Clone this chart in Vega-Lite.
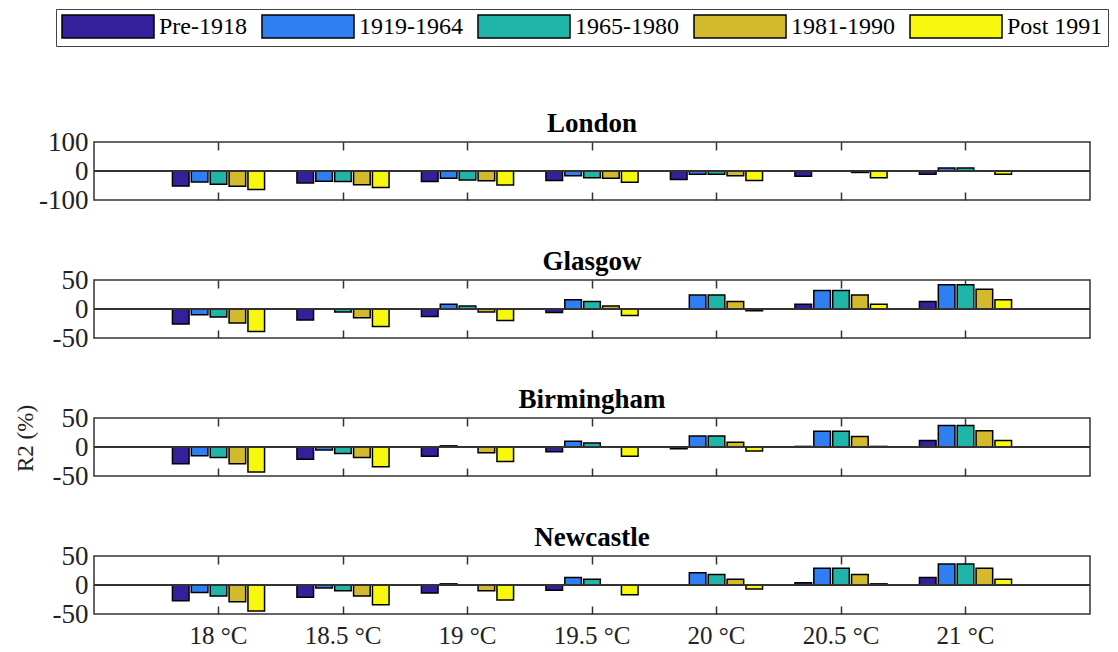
{
  "$schema": "https://vega.github.io/schema/vega-lite/v6.json",
  "padding": {"left": 13, "top": 8, "right": 0, "bottom": 0},
  "background": "white",
  "config": {
    "font": "Liberation Serif",
    "view": {"stroke": "#333", "strokeWidth": 1.5},
    "axis": {"labelFont": "Liberation Serif", "labelFontSize": 27, "labelColor": "#222", "labelOverlap": false, "labelFlush": false, "grid": false, "domain": false, "tickColor": "#333", "tickWidth": 1.5, "titleFont": "Liberation Serif", "titleFontSize": 23, "titleFontWeight": "normal", "titleColor": "#222"},
    "title": {"font": "Liberation Serif", "fontSize": 27, "fontWeight": "bold", "color": "black", "offset": -10, "anchor": "middle"},
    "legend": {"orient": "none", "legendX": -38, "legendY": -133, "direction": "horizontal", "columns": 5, "labelFont": "Liberation Serif", "labelFontSize": 24, "labelColor": "black", "labelOffset": 73, "columnPadding": 12, "strokeColor": "#444", "padding": 5, "fillColor": "white"}
  },
  "datasets": {
    "d": [
      {"city": "London", "temp": "18 °C", "period": "Pre-1918", "value": -52},
      {"city": "London", "temp": "18 °C", "period": "1919-1964", "value": -38},
      {"city": "London", "temp": "18 °C", "period": "1965-1980", "value": -46},
      {"city": "London", "temp": "18 °C", "period": "1981-1990", "value": -53},
      {"city": "London", "temp": "18 °C", "period": "Post 1991", "value": -64},
      {"city": "London", "temp": "18.5 °C", "period": "Pre-1918", "value": -41},
      {"city": "London", "temp": "18.5 °C", "period": "1919-1964", "value": -35},
      {"city": "London", "temp": "18.5 °C", "period": "1965-1980", "value": -36},
      {"city": "London", "temp": "18.5 °C", "period": "1981-1990", "value": -47},
      {"city": "London", "temp": "18.5 °C", "period": "Post 1991", "value": -57},
      {"city": "London", "temp": "19 °C", "period": "Pre-1918", "value": -36},
      {"city": "London", "temp": "19 °C", "period": "1919-1964", "value": -25},
      {"city": "London", "temp": "19 °C", "period": "1965-1980", "value": -31},
      {"city": "London", "temp": "19 °C", "period": "1981-1990", "value": -34},
      {"city": "London", "temp": "19 °C", "period": "Post 1991", "value": -48},
      {"city": "London", "temp": "19.5 °C", "period": "Pre-1918", "value": -33},
      {"city": "London", "temp": "19.5 °C", "period": "1919-1964", "value": -16},
      {"city": "London", "temp": "19.5 °C", "period": "1965-1980", "value": -23},
      {"city": "London", "temp": "19.5 °C", "period": "1981-1990", "value": -25},
      {"city": "London", "temp": "19.5 °C", "period": "Post 1991", "value": -39},
      {"city": "London", "temp": "20 °C", "period": "Pre-1918", "value": -29},
      {"city": "London", "temp": "20 °C", "period": "1919-1964", "value": -11},
      {"city": "London", "temp": "20 °C", "period": "1965-1980", "value": -11},
      {"city": "London", "temp": "20 °C", "period": "1981-1990", "value": -16},
      {"city": "London", "temp": "20 °C", "period": "Post 1991", "value": -33},
      {"city": "London", "temp": "20.5 °C", "period": "Pre-1918", "value": -18},
      {"city": "London", "temp": "20.5 °C", "period": "1919-1964", "value": 0},
      {"city": "London", "temp": "20.5 °C", "period": "1965-1980", "value": 0},
      {"city": "London", "temp": "20.5 °C", "period": "1981-1990", "value": -5},
      {"city": "London", "temp": "20.5 °C", "period": "Post 1991", "value": -23},
      {"city": "London", "temp": "21 °C", "period": "Pre-1918", "value": -11},
      {"city": "London", "temp": "21 °C", "period": "1919-1964", "value": 10},
      {"city": "London", "temp": "21 °C", "period": "1965-1980", "value": 10},
      {"city": "London", "temp": "21 °C", "period": "1981-1990", "value": 0},
      {"city": "London", "temp": "21 °C", "period": "Post 1991", "value": -11},

      {"city": "Glasgow", "temp": "18 °C", "period": "Pre-1918", "value": -26},
      {"city": "Glasgow", "temp": "18 °C", "period": "1919-1964", "value": -10},
      {"city": "Glasgow", "temp": "18 °C", "period": "1965-1980", "value": -14},
      {"city": "Glasgow", "temp": "18 °C", "period": "1981-1990", "value": -24},
      {"city": "Glasgow", "temp": "18 °C", "period": "Post 1991", "value": -39},
      {"city": "Glasgow", "temp": "18.5 °C", "period": "Pre-1918", "value": -19},
      {"city": "Glasgow", "temp": "18.5 °C", "period": "1919-1964", "value": 0},
      {"city": "Glasgow", "temp": "18.5 °C", "period": "1965-1980", "value": -5},
      {"city": "Glasgow", "temp": "18.5 °C", "period": "1981-1990", "value": -15},
      {"city": "Glasgow", "temp": "18.5 °C", "period": "Post 1991", "value": -30},
      {"city": "Glasgow", "temp": "19 °C", "period": "Pre-1918", "value": -13},
      {"city": "Glasgow", "temp": "19 °C", "period": "1919-1964", "value": 8},
      {"city": "Glasgow", "temp": "19 °C", "period": "1965-1980", "value": 5},
      {"city": "Glasgow", "temp": "19 °C", "period": "1981-1990", "value": -5},
      {"city": "Glasgow", "temp": "19 °C", "period": "Post 1991", "value": -20},
      {"city": "Glasgow", "temp": "19.5 °C", "period": "Pre-1918", "value": -6},
      {"city": "Glasgow", "temp": "19.5 °C", "period": "1919-1964", "value": 16},
      {"city": "Glasgow", "temp": "19.5 °C", "period": "1965-1980", "value": 13},
      {"city": "Glasgow", "temp": "19.5 °C", "period": "1981-1990", "value": 5},
      {"city": "Glasgow", "temp": "19.5 °C", "period": "Post 1991", "value": -11},
      {"city": "Glasgow", "temp": "20 °C", "period": "Pre-1918", "value": 0},
      {"city": "Glasgow", "temp": "20 °C", "period": "1919-1964", "value": 24},
      {"city": "Glasgow", "temp": "20 °C", "period": "1965-1980", "value": 24},
      {"city": "Glasgow", "temp": "20 °C", "period": "1981-1990", "value": 13},
      {"city": "Glasgow", "temp": "20 °C", "period": "Post 1991", "value": -3},
      {"city": "Glasgow", "temp": "20.5 °C", "period": "Pre-1918", "value": 8},
      {"city": "Glasgow", "temp": "20.5 °C", "period": "1919-1964", "value": 32},
      {"city": "Glasgow", "temp": "20.5 °C", "period": "1965-1980", "value": 32},
      {"city": "Glasgow", "temp": "20.5 °C", "period": "1981-1990", "value": 24},
      {"city": "Glasgow", "temp": "20.5 °C", "period": "Post 1991", "value": 8},
      {"city": "Glasgow", "temp": "21 °C", "period": "Pre-1918", "value": 13},
      {"city": "Glasgow", "temp": "21 °C", "period": "1919-1964", "value": 42},
      {"city": "Glasgow", "temp": "21 °C", "period": "1965-1980", "value": 42},
      {"city": "Glasgow", "temp": "21 °C", "period": "1981-1990", "value": 34},
      {"city": "Glasgow", "temp": "21 °C", "period": "Post 1991", "value": 16},

      {"city": "Birmingham", "temp": "18 °C", "period": "Pre-1918", "value": -29},
      {"city": "Birmingham", "temp": "18 °C", "period": "1919-1964", "value": -15},
      {"city": "Birmingham", "temp": "18 °C", "period": "1965-1980", "value": -18},
      {"city": "Birmingham", "temp": "18 °C", "period": "1981-1990", "value": -29},
      {"city": "Birmingham", "temp": "18 °C", "period": "Post 1991", "value": -43},
      {"city": "Birmingham", "temp": "18.5 °C", "period": "Pre-1918", "value": -21},
      {"city": "Birmingham", "temp": "18.5 °C", "period": "1919-1964", "value": -5},
      {"city": "Birmingham", "temp": "18.5 °C", "period": "1965-1980", "value": -11},
      {"city": "Birmingham", "temp": "18.5 °C", "period": "1981-1990", "value": -18},
      {"city": "Birmingham", "temp": "18.5 °C", "period": "Post 1991", "value": -34},
      {"city": "Birmingham", "temp": "19 °C", "period": "Pre-1918", "value": -16},
      {"city": "Birmingham", "temp": "19 °C", "period": "1919-1964", "value": 2},
      {"city": "Birmingham", "temp": "19 °C", "period": "1965-1980", "value": 0},
      {"city": "Birmingham", "temp": "19 °C", "period": "1981-1990", "value": -10},
      {"city": "Birmingham", "temp": "19 °C", "period": "Post 1991", "value": -25},
      {"city": "Birmingham", "temp": "19.5 °C", "period": "Pre-1918", "value": -8},
      {"city": "Birmingham", "temp": "19.5 °C", "period": "1919-1964", "value": 10},
      {"city": "Birmingham", "temp": "19.5 °C", "period": "1965-1980", "value": 7},
      {"city": "Birmingham", "temp": "19.5 °C", "period": "1981-1990", "value": 0},
      {"city": "Birmingham", "temp": "19.5 °C", "period": "Post 1991", "value": -16},
      {"city": "Birmingham", "temp": "20 °C", "period": "Pre-1918", "value": -3},
      {"city": "Birmingham", "temp": "20 °C", "period": "1919-1964", "value": 19},
      {"city": "Birmingham", "temp": "20 °C", "period": "1965-1980", "value": 19},
      {"city": "Birmingham", "temp": "20 °C", "period": "1981-1990", "value": 8},
      {"city": "Birmingham", "temp": "20 °C", "period": "Post 1991", "value": -7},
      {"city": "Birmingham", "temp": "20.5 °C", "period": "Pre-1918", "value": 1},
      {"city": "Birmingham", "temp": "20.5 °C", "period": "1919-1964", "value": 27},
      {"city": "Birmingham", "temp": "20.5 °C", "period": "1965-1980", "value": 27},
      {"city": "Birmingham", "temp": "20.5 °C", "period": "1981-1990", "value": 18},
      {"city": "Birmingham", "temp": "20.5 °C", "period": "Post 1991", "value": 1},
      {"city": "Birmingham", "temp": "21 °C", "period": "Pre-1918", "value": 11},
      {"city": "Birmingham", "temp": "21 °C", "period": "1919-1964", "value": 37},
      {"city": "Birmingham", "temp": "21 °C", "period": "1965-1980", "value": 37},
      {"city": "Birmingham", "temp": "21 °C", "period": "1981-1990", "value": 28},
      {"city": "Birmingham", "temp": "21 °C", "period": "Post 1991", "value": 11},

      {"city": "Newcastle", "temp": "18 °C", "period": "Pre-1918", "value": -27},
      {"city": "Newcastle", "temp": "18 °C", "period": "1919-1964", "value": -13},
      {"city": "Newcastle", "temp": "18 °C", "period": "1965-1980", "value": -19},
      {"city": "Newcastle", "temp": "18 °C", "period": "1981-1990", "value": -29},
      {"city": "Newcastle", "temp": "18 °C", "period": "Post 1991", "value": -45},
      {"city": "Newcastle", "temp": "18.5 °C", "period": "Pre-1918", "value": -21},
      {"city": "Newcastle", "temp": "18.5 °C", "period": "1919-1964", "value": -5},
      {"city": "Newcastle", "temp": "18.5 °C", "period": "1965-1980", "value": -10},
      {"city": "Newcastle", "temp": "18.5 °C", "period": "1981-1990", "value": -19},
      {"city": "Newcastle", "temp": "18.5 °C", "period": "Post 1991", "value": -34},
      {"city": "Newcastle", "temp": "19 °C", "period": "Pre-1918", "value": -14},
      {"city": "Newcastle", "temp": "19 °C", "period": "1919-1964", "value": 2},
      {"city": "Newcastle", "temp": "19 °C", "period": "1965-1980", "value": 0},
      {"city": "Newcastle", "temp": "19 °C", "period": "1981-1990", "value": -10},
      {"city": "Newcastle", "temp": "19 °C", "period": "Post 1991", "value": -26},
      {"city": "Newcastle", "temp": "19.5 °C", "period": "Pre-1918", "value": -9},
      {"city": "Newcastle", "temp": "19.5 °C", "period": "1919-1964", "value": 13},
      {"city": "Newcastle", "temp": "19.5 °C", "period": "1965-1980", "value": 10},
      {"city": "Newcastle", "temp": "19.5 °C", "period": "1981-1990", "value": 0},
      {"city": "Newcastle", "temp": "19.5 °C", "period": "Post 1991", "value": -17},
      {"city": "Newcastle", "temp": "20 °C", "period": "Pre-1918", "value": 0},
      {"city": "Newcastle", "temp": "20 °C", "period": "1919-1964", "value": 21},
      {"city": "Newcastle", "temp": "20 °C", "period": "1965-1980", "value": 18},
      {"city": "Newcastle", "temp": "20 °C", "period": "1981-1990", "value": 10},
      {"city": "Newcastle", "temp": "20 °C", "period": "Post 1991", "value": -7},
      {"city": "Newcastle", "temp": "20.5 °C", "period": "Pre-1918", "value": 4},
      {"city": "Newcastle", "temp": "20.5 °C", "period": "1919-1964", "value": 29},
      {"city": "Newcastle", "temp": "20.5 °C", "period": "1965-1980", "value": 29},
      {"city": "Newcastle", "temp": "20.5 °C", "period": "1981-1990", "value": 18},
      {"city": "Newcastle", "temp": "20.5 °C", "period": "Post 1991", "value": 2},
      {"city": "Newcastle", "temp": "21 °C", "period": "Pre-1918", "value": 13},
      {"city": "Newcastle", "temp": "21 °C", "period": "1919-1964", "value": 36},
      {"city": "Newcastle", "temp": "21 °C", "period": "1965-1980", "value": 36},
      {"city": "Newcastle", "temp": "21 °C", "period": "1981-1990", "value": 29},
      {"city": "Newcastle", "temp": "21 °C", "period": "Post 1991", "value": 10}
    ]
  },
  "data": {"name": "d"},
  "spacing": 80,
  "bounds": "flush",
  "vconcat": [
    {
      "title": "London",
      "width": 996, "height": 58,
      "transform": [{"filter": "datum.city === 'London'"}],
      "layer": [
        {
          "mark": {"type": "bar", "stroke": "black", "strokeWidth": 1.5},
          "encoding": {
            "x": {"field": "temp", "type": "nominal", "sort": ["18 °C","18.5 °C","19 °C","19.5 °C","20 °C","20.5 °C","21 °C"], "scale": {"paddingInner": 0.26, "paddingOuter": 0.63}, "axis": {"orient": "bottom", "title": null, "labels": false, "tickSize": -8}},
            "xOffset": {"field": "period", "type": "nominal", "sort": ["Pre-1918","1919-1964","1965-1980","1981-1990","Post 1991"], "scale": {"paddingInner": 0.12}},
            "y": {"field": "value", "type": "quantitative", "scale": {"domain": [-100, 100], "nice": false}, "axis": {"tickCount": 2, "title": null, "ticks": false, "labelExpr": "'' + datum.value", "labelPadding": 6}},
            "color": {"field": "period", "type": "nominal", "sort": ["Pre-1918","1919-1964","1965-1980","1981-1990","Post 1991"], "scale": {"domain": ["Pre-1918","1919-1964","1965-1980","1981-1990","Post 1991"], "range": ["#33209A","#2F7EF2","#21B4A8","#D2BA2C","#F8F80F"]}, "legend": {"title": null, "symbolType": "M-1,-1H7V1H-1Z", "symbolSize": 529, "symbolStrokeColor": "black", "symbolStrokeWidth": 1.5, "symbolOpacity": 1}}
          }
        },
        {
          "mark": {"type": "bar", "opacity": 0},
          "encoding": {
            "x": {"field": "temp", "type": "nominal", "sort": ["18 °C","18.5 °C","19 °C","19.5 °C","20 °C","20.5 °C","21 °C"], "axis": {"orient": "top", "title": null, "labels": false, "tickSize": -8}}
          }
        },
        {"mark": {"type": "rule", "color": "#333", "strokeWidth": 1.5}, "encoding": {"y": {"datum": 0}}}
      ],
      "resolve": {"axis": {"x": "independent"}}
    },
    {
      "title": "Glasgow",
      "width": 996, "height": 58,
      "transform": [{"filter": "datum.city === 'Glasgow'"}],
      "layer": [
        {
          "mark": {"type": "bar", "stroke": "black", "strokeWidth": 1.5},
          "encoding": {
            "x": {"field": "temp", "type": "nominal", "sort": ["18 °C","18.5 °C","19 °C","19.5 °C","20 °C","20.5 °C","21 °C"], "scale": {"paddingInner": 0.26, "paddingOuter": 0.63}, "axis": {"orient": "bottom", "title": null, "labels": false, "tickSize": -8}},
            "xOffset": {"field": "period", "type": "nominal", "sort": ["Pre-1918","1919-1964","1965-1980","1981-1990","Post 1991"], "scale": {"paddingInner": 0.12}},
            "y": {"field": "value", "type": "quantitative", "scale": {"domain": [-50, 50], "nice": false}, "axis": {"tickCount": 2, "title": null, "ticks": false, "labelExpr": "'' + datum.value", "labelPadding": 6}},
            "color": {"field": "period", "type": "nominal", "sort": ["Pre-1918","1919-1964","1965-1980","1981-1990","Post 1991"], "scale": {"domain": ["Pre-1918","1919-1964","1965-1980","1981-1990","Post 1991"], "range": ["#33209A","#2F7EF2","#21B4A8","#D2BA2C","#F8F80F"]}, "legend": {"title": null, "symbolType": "M-1,-1H7V1H-1Z", "symbolSize": 529, "symbolStrokeColor": "black", "symbolStrokeWidth": 1.5, "symbolOpacity": 1}}
          }
        },
        {
          "mark": {"type": "bar", "opacity": 0},
          "encoding": {
            "x": {"field": "temp", "type": "nominal", "sort": ["18 °C","18.5 °C","19 °C","19.5 °C","20 °C","20.5 °C","21 °C"], "axis": {"orient": "top", "title": null, "labels": false, "tickSize": -8}}
          }
        },
        {"mark": {"type": "rule", "color": "#333", "strokeWidth": 1.5}, "encoding": {"y": {"datum": 0}}}
      ],
      "resolve": {"axis": {"x": "independent"}}
    },
    {
      "title": "Birmingham",
      "width": 996, "height": 58,
      "transform": [{"filter": "datum.city === 'Birmingham'"}],
      "layer": [
        {
          "mark": {"type": "bar", "stroke": "black", "strokeWidth": 1.5},
          "encoding": {
            "x": {"field": "temp", "type": "nominal", "sort": ["18 °C","18.5 °C","19 °C","19.5 °C","20 °C","20.5 °C","21 °C"], "scale": {"paddingInner": 0.26, "paddingOuter": 0.63}, "axis": {"orient": "bottom", "title": null, "labels": false, "tickSize": -8}},
            "xOffset": {"field": "period", "type": "nominal", "sort": ["Pre-1918","1919-1964","1965-1980","1981-1990","Post 1991"], "scale": {"paddingInner": 0.12}},
            "y": {"field": "value", "type": "quantitative", "scale": {"domain": [-50, 50], "nice": false}, "axis": {"tickCount": 2, "title": "R2 (%)", "titlePadding": 15, "titleY": 20, "ticks": false, "labelExpr": "'' + datum.value", "labelPadding": 6}},
            "color": {"field": "period", "type": "nominal", "sort": ["Pre-1918","1919-1964","1965-1980","1981-1990","Post 1991"], "scale": {"domain": ["Pre-1918","1919-1964","1965-1980","1981-1990","Post 1991"], "range": ["#33209A","#2F7EF2","#21B4A8","#D2BA2C","#F8F80F"]}, "legend": {"title": null, "symbolType": "M-1,-1H7V1H-1Z", "symbolSize": 529, "symbolStrokeColor": "black", "symbolStrokeWidth": 1.5, "symbolOpacity": 1}}
          }
        },
        {
          "mark": {"type": "bar", "opacity": 0},
          "encoding": {
            "x": {"field": "temp", "type": "nominal", "sort": ["18 °C","18.5 °C","19 °C","19.5 °C","20 °C","20.5 °C","21 °C"], "axis": {"orient": "top", "title": null, "labels": false, "tickSize": -8}}
          }
        },
        {"mark": {"type": "rule", "color": "#333", "strokeWidth": 1.5}, "encoding": {"y": {"datum": 0}}}
      ],
      "resolve": {"axis": {"x": "independent"}}
    },
    {
      "title": "Newcastle",
      "width": 996, "height": 58,
      "transform": [{"filter": "datum.city === 'Newcastle'"}],
      "layer": [
        {
          "mark": {"type": "bar", "stroke": "black", "strokeWidth": 1.5},
          "encoding": {
            "x": {"field": "temp", "type": "nominal", "sort": ["18 °C","18.5 °C","19 °C","19.5 °C","20 °C","20.5 °C","21 °C"], "scale": {"paddingInner": 0.26, "paddingOuter": 0.63}, "axis": {"orient": "bottom", "title": null, "labels": true, "labelAngle": 0, "tickSize": -8, "labelPadding": 17, "labelFontSize": 25}},
            "xOffset": {"field": "period", "type": "nominal", "sort": ["Pre-1918","1919-1964","1965-1980","1981-1990","Post 1991"], "scale": {"paddingInner": 0.12}},
            "y": {"field": "value", "type": "quantitative", "scale": {"domain": [-50, 50], "nice": false}, "axis": {"tickCount": 2, "title": null, "ticks": false, "labelExpr": "'' + datum.value", "labelPadding": 6}},
            "color": {"field": "period", "type": "nominal", "sort": ["Pre-1918","1919-1964","1965-1980","1981-1990","Post 1991"], "scale": {"domain": ["Pre-1918","1919-1964","1965-1980","1981-1990","Post 1991"], "range": ["#33209A","#2F7EF2","#21B4A8","#D2BA2C","#F8F80F"]}, "legend": {"title": null, "symbolType": "M-1,-1H7V1H-1Z", "symbolSize": 529, "symbolStrokeColor": "black", "symbolStrokeWidth": 1.5, "symbolOpacity": 1}}
          }
        },
        {
          "mark": {"type": "bar", "opacity": 0},
          "encoding": {
            "x": {"field": "temp", "type": "nominal", "sort": ["18 °C","18.5 °C","19 °C","19.5 °C","20 °C","20.5 °C","21 °C"], "axis": {"orient": "top", "title": null, "labels": false, "tickSize": -8}}
          }
        },
        {"mark": {"type": "rule", "color": "#333", "strokeWidth": 1.5}, "encoding": {"y": {"datum": 0}}}
      ],
      "resolve": {"axis": {"x": "independent"}}
    }
  ]
}
